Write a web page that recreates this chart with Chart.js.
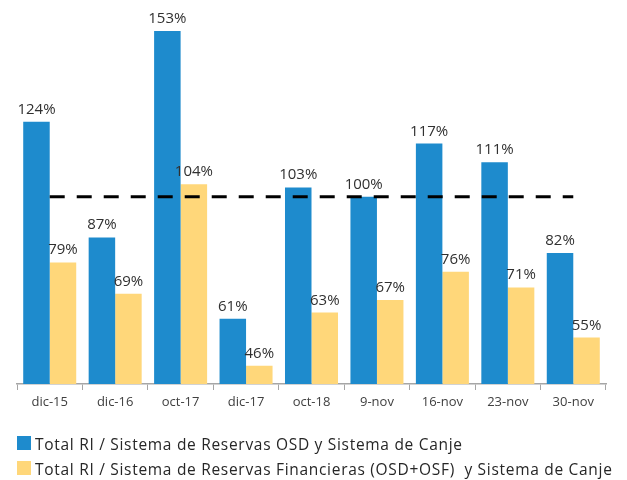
<!DOCTYPE html>
<html>
<head>
<meta charset="utf-8">
<script src="https://cdn.jsdelivr.net/npm/chart.js@4"></script>
<style>
html,body{margin:0;padding:0;background:#fff;}
#wrap{width:627px;height:480px;}
</style>
</head>
<body>
<div id="wrap"><canvas id="c" width="627" height="480"></canvas></div>
<script>
const categories = ["dic-15","dic-16","oct-17","dic-17","oct-18","9-nov","16-nov","23-nov","30-nov"];
const seriesOSD = [124,87,153,61,103,100,117,111,82];
const seriesFin = [79,69,104,46,63,67,76,71,55];
const reference = [100,100,100,100,100,100,100,100,100];
const labelOSD = "Total RI / Sistema de Reservas OSD y Sistema de Canje";
const labelFin = "Total RI / Sistema de Reservas Financieras (OSD+OSF)  y Sistema de Canje";

const FONT = "'Open Sans', 'DejaVu Sans', sans-serif";

const valueLabels = {
  id: 'valueLabels',
  afterDatasetsDraw(chart) {
    const ctx = chart.ctx;
    ctx.save();
    ctx.font = "15px " + FONT;
    ctx.fillStyle = "#303030";
    ctx.textAlign = "center";
    ctx.textBaseline = "alphabetic";
    chart.data.datasets.forEach((ds, i) => {
      if (ds.type === 'line') return;
      const meta = chart.getDatasetMeta(i);
      meta.data.forEach((bar, j) => {
        ctx.fillText(ds.data[j] + "%", bar.x, bar.y - 8);
      });
    });
    ctx.restore();
  }
};

const customLegend = {
  id: 'customLegend',
  afterDraw(chart) {
    const ctx = chart.ctx;
    ctx.save();
    ctx.font = "15.5px " + FONT;
    if ('letterSpacing' in ctx) ctx.letterSpacing = '0.7px';
    ctx.textAlign = "left";
    ctx.textBaseline = "alphabetic";
    let row = 0;
    chart.data.datasets.forEach((ds) => {
      if (ds.type === 'line') return;
      const top = 436 + row * 25;
      ctx.fillStyle = ds.backgroundColor;
      ctx.fillRect(17, top, 14, 14);
      ctx.fillStyle = "#262626";
      ctx.fillText(ds.label, 35, top + 14);
      row++;
    });
    ctx.restore();
  }
};

new Chart(document.getElementById('c'), {
  data: {
    labels: categories,
    datasets: [
      { type: 'line', label: 'ref', data: reference, borderColor: '#000', borderWidth: 3,
        borderDash: [15, 12], pointRadius: 0, fill: false, order: 0 },
      { type: 'bar', label: labelOSD, data: seriesOSD, backgroundColor: '#1E8BCD',
        categoryPercentage: 0.81, barPercentage: 1, order: 1 },
      { type: 'bar', label: labelFin, data: seriesFin, backgroundColor: '#FFD77A',
        categoryPercentage: 0.81, barPercentage: 1, order: 1 }
    ]
  },
  options: {
    responsive: false,
    animation: false,
    layout: { padding: { left: 17, right: 21, top: 10, bottom: 0 } },
    plugins: { legend: { display: false }, tooltip: { enabled: false } },
    scales: {
      x: {
        grid: { offset: true, drawOnChartArea: false, tickLength: 6, color: '#a6a6a6', lineWidth: 1 },
        border: { color: '#a6a6a6', width: 1.5 },
        ticks: { font: { family: FONT, size: 13 }, color: '#404040', padding: 4 },
        afterFit(scale) { scale.height = 96; }
      },
      y: {
        display: false,
        min: 40.15,
        max: 159.7
      }
    }
  },
  plugins: [valueLabels, customLegend]
});
</script>
</body>
</html>
